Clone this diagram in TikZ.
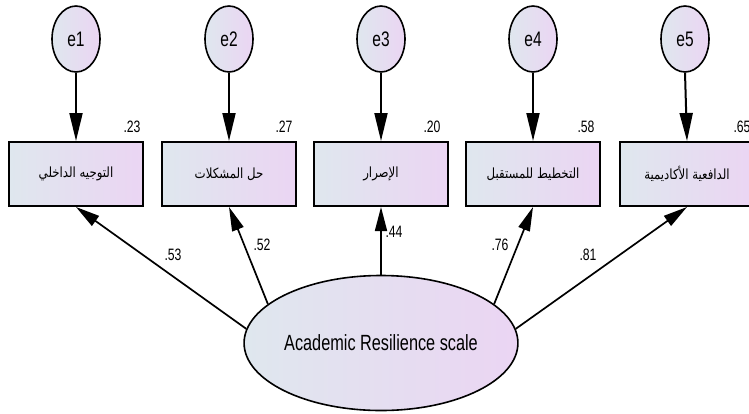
\documentclass[tikz,border=0pt]{standalone}
\usepackage{fontspec}
\setmainfont{Liberation Sans}
\newfontfamily\narrowfont[FakeStretch=0.74]{Liberation Sans}
\newfontfamily\arabicfont[Script=Arabic,FakeStretch=0.84]{DejaVu Sans}
\TeXXeTstate=1
\usetikzlibrary{arrows.meta,shapes.geometric}
\definecolor{gleft}{HTML}{DFE7EE}
\definecolor{gright}{HTML}{EBD5F3}
\tikzset{
  errc/.style={ellipse, draw=black, line width=1.6pt, left color=gleft, right color=gright,
    minimum width=48pt, minimum height=66pt, inner sep=0pt,
    font=\narrowfont\fontsize{21}{21}\selectfont},
  obsbox/.style={rectangle, draw=black, line width=2pt, left color=gleft, right color=gright,
    minimum width=134pt, minimum height=64pt, inner sep=0pt,
    font=\arabicfont\fontsize{14}{14}\selectfont},
  latent/.style={ellipse, draw=black, line width=1.6pt, left color=gleft, right color=gright,
    minimum width=267pt, minimum height=135pt, inner sep=0pt,
    font=\narrowfont\fontsize{22}{22}\selectfont},
  coef/.style={font=\narrowfont\fontsize{16.5}{16.5}\selectfont, inner sep=0pt},
  errarrow/.style={-{Triangle[length=28pt,width=13pt]}, line width=2pt},
  patharrow/.style={-{Triangle[length=24pt,width=12pt]}, line width=1.7pt},
}
\begin{document}
\begin{tikzpicture}[x=1pt,y=-1pt]
\clip (0,0) rectangle (749,413);
\fill[white] (0,0) rectangle (749,413);

% error terms
\node[errc] (e1) at (76,39) {e1};
\node[errc] (e2) at (229,39) {e2};
\node[errc] (e3) at (381,39) {e3};
\node[errc] (e4) at (533,39) {e4};
\node[errc] (e5) at (685,39) {e5};

% observed variables
\node[obsbox] (b1) at (76,174) {\beginR التوجيه الداخلي\endR};
\node[obsbox] (b2) at (229,174) {\beginR حل المشكلات\endR};
\node[obsbox] (b3) at (381,174) {\beginR الإصرار\endR};
\node[obsbox] (b4) at (533,174) {\beginR التخطيط للمستقبل\endR};
\node[obsbox] (b5) at (687,174) {\beginR الدافعية الأكاديمية\endR};

% latent variable
\node[latent] (ar) at (381,343) {Academic Resilience scale};

% error arrows
\draw[errarrow] (e1.south) -- (b1.north);
\draw[errarrow] (e2.south) -- (b2.north);
\draw[errarrow] (e3.south) -- (b3.north);
\draw[errarrow] (e4.south) -- (b4.north);
\draw[errarrow] (e5.south) -- (b5.north);

% loadings
\draw[patharrow] (ar.174) -- (b1.south);
\draw[patharrow] (ar.161) -- (b2.south);
\draw[patharrow] (ar.north) -- (b3.south);
\draw[patharrow] (ar.19) -- (b4.south);
\draw[patharrow] (ar.6) -- (b5.south);

% squared multiple correlations
\node[coef] (r1) at (132,127) {.23};
\node[coef] (r2) at (284,127) {.27};
\node[coef] (r3) at (432,127) {.20};
\node[coef] (r4) at (586,127) {.58};
\node[coef] (r5) at (742,127) {.65};

% loading labels
\node[coef] (l1) at (173,255) {.53};
\node[coef] (l2) at (262,245) {.52};
\node[coef] (l3) at (394,232) {.44};
\node[coef] (l4) at (500,245) {.76};
\node[coef] (l5) at (588,255) {.81};
\end{tikzpicture}
\end{document}
